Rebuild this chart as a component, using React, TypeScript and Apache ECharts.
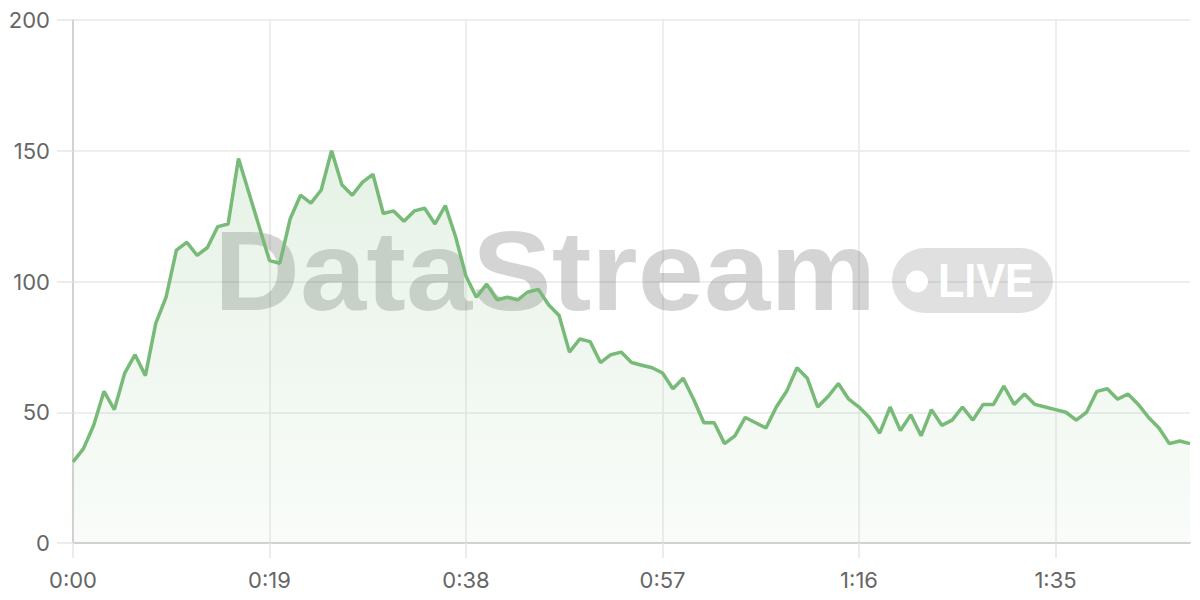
import React, { useEffect, useRef } from "react";
import * as echarts from "echarts";

const seconds: number[] = Array.from({ length: 109 }, (_, i) => i);
const timeLabels: string[] = seconds.map(
  (s) => `${Math.floor(s / 60)}:${String(s % 60).padStart(2, "0")}`
);
const values: number[] = [
  31, 36, 45, 58, 51, 65, 72, 64, 84, 94,
  112, 115, 110, 113, 121, 122, 147, 134, 121, 108,
  107, 124, 133, 130, 135, 150, 137, 133, 138, 141,
  126, 127, 123, 127, 128, 122, 129, 117, 102, 94,
  99, 93, 94, 93, 96, 97, 91, 87, 73, 78,
  77, 69, 72, 73, 69, 68, 67, 65, 59, 63,
  55, 46, 46, 38, 41, 48, 46, 44, 52, 58,
  67, 63, 52, 56, 61, 55, 52, 48, 42, 52,
  43, 49, 41, 51, 45, 47, 52, 47, 53, 53,
  60, 53, 57, 53, 52, 51, 50, 47, 50, 58,
  59, 55, 57, 53, 48, 44, 38, 39, 38,
];
const yTicks = { min: 0, max: 200, interval: 50 };
const brandText = "DataStream";
const badgeText = "LIVE";

const GREEN = "#78ba78";
const FONT = "'Liberation Sans', Arial, Helvetica, sans-serif";
const LABEL_FONT = "Inter, 'Liberation Sans', Arial, sans-serif";

export default function App() {
  const ref = useRef<HTMLDivElement>(null);
  useEffect(() => {
    if (!ref.current) return;
    const chart = echarts.init(ref.current, undefined, { renderer: "svg" });
    chart.setOption({
      animation: false,
      backgroundColor: "#ffffff",
      grid: { left: 73, right: 10, top: 20, bottom: 57, containLabel: false },
      xAxis: {
        type: "category",
        data: timeLabels,
        boundaryGap: false,
        axisLine: { lineStyle: { color: "#d2d2d2", width: 2 } },
        axisTick: {
          show: true,
          interval: 18,
          length: 15,
          lineStyle: { color: "#e6e6e6", width: 1.5 },
        },
        axisLabel: {
          interval: 18,
          color: "#666666",
          fontSize: 22,
          fontFamily: LABEL_FONT,
          margin: 26,
        },
        splitLine: {
          show: true,
          interval: 18,
          lineStyle: { color: "#e8e8e8", width: 1.5 },
        },
      },
      yAxis: {
        type: "value",
        min: yTicks.min,
        max: yTicks.max,
        interval: yTicks.interval,
        axisLine: { show: true, lineStyle: { color: "#d2d2d2", width: 2 } },
        axisTick: {
          show: true,
          length: 16,
          lineStyle: { color: "#e6e6e6", width: 1.5 },
        },
        axisLabel: {
          color: "#666666",
          fontSize: 22,
          fontFamily: LABEL_FONT,
          margin: 23,
        },
        splitLine: { lineStyle: { color: "#e8e8e8", width: 1.5 } },
      },
      graphic: [
        {
          type: "text",
          z: 1,
          x: 214,
          y: 213,
          scaleX: 1.045,
          style: {
            text: brandText,
            font: `bold 114px ${FONT}`,
            fill: "rgba(0,0,0,0.17)",
            verticalAlign: "top",
            align: "left",
          },
        },
        {
          type: "rect",
          z: 1,
          shape: { x: 892, y: 248, width: 161, height: 65, r: 32.5 },
          style: { fill: "rgba(0,0,0,0.12)" },
        },
        {
          type: "circle",
          z: 1,
          shape: { cx: 917, cy: 281.5, r: 11 },
          style: { fill: "#ffffff" },
        },
        {
          type: "text",
          z: 1,
          x: 938,
          y: 280.5,
          scaleX: 0.88,
          style: {
            text: badgeText,
            font: `bold 49px ${FONT}`,
            fill: "#ffffff",
            verticalAlign: "middle",
            align: "left",
          },
        },
      ],
      series: [
        {
          type: "line",
          data: values,
          symbol: "none",
          z: 3,
          lineStyle: { color: GREEN, width: 3.5 },
          areaStyle: {
            color: new echarts.graphic.LinearGradient(0, 0, 0, 1, [
              { offset: 0, color: "rgba(118,184,118,0.26)" },
              { offset: 1, color: "rgba(118,184,118,0.06)" },
            ]),
          },
        },
      ],
    });
    return () => chart.dispose();
  }, []);
  return (
    <div
      ref={ref}
      style={{ position: "absolute", left: 0, top: 0, width: 1200, height: 600 }}
    />
  );
}
